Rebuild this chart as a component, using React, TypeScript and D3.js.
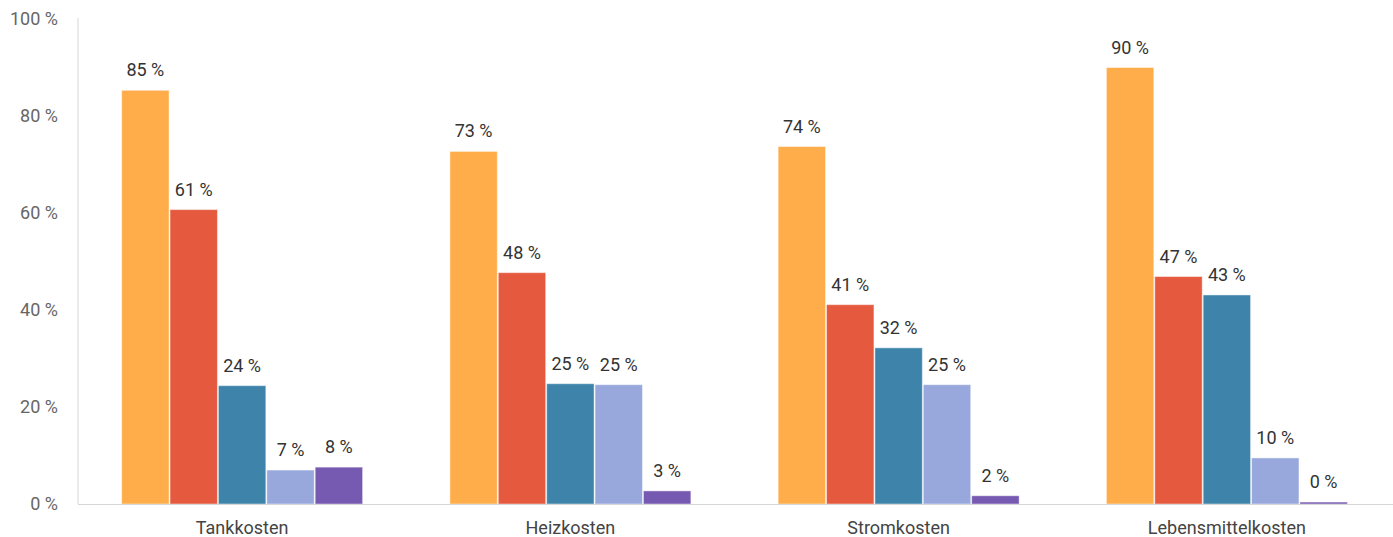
import React, { useEffect, useRef } from 'react';
import * as d3 from 'd3';

const categories = ['Tankkosten', 'Heizkosten', 'Stromkosten', 'Lebensmittelkosten'];
const seriesKeys = ['s1', 's2', 's3', 's4', 's5'];
const colors = ['#FFAD4B', '#E55A3F', '#3E84AA', '#98A8DC', '#7659B0'];
// values per category, in series order
const tankValues = [85.3, 60.7, 24.4, 7.0, 7.6];
const heizValues = [72.7, 47.7, 24.8, 24.6, 2.7];
const stromValues = [73.7, 41.1, 32.2, 24.6, 1.7];
const lebensValues = [90.0, 46.9, 43.1, 9.5, 0.4];
const yTicks = [0, 20, 40, 60, 80, 100];

const allValues = [tankValues, heizValues, stromValues, lebensValues];

const W = 1393;
const H = 537;

export default function App() {
  const svgRef = useRef<SVGSVGElement>(null);

  useEffect(() => {
    const svg = d3.select(svgRef.current);
    svg.selectAll('*').remove();

    const left = 78;
    const right = 1391;
    const top = 19;
    const bottom = 504;

    const x0 = d3.scaleBand().domain(categories).range([left, right]).paddingInner(0.26).paddingOuter(0.13);
    const x1 = d3.scaleBand().domain(seriesKeys).range([0, x0.bandwidth()]).padding(0.02);
    const y = d3.scaleLinear().domain([0, 100]).range([bottom, top]);

    const font = 'Roboto, "Noto Sans", sans-serif';

    // y tick labels
    svg.append('g')
      .selectAll('text')
      .data(yTicks)
      .enter().append('text')
      .attr('x', 58)
      .attr('y', d => y(d))
      .attr('dy', '0.35em')
      .attr('text-anchor', 'end')
      .attr('font-family', font)
      .attr('font-size', 18)
      .attr('fill', '#666')
      .text(d => `${d} %`);

    // bars
    const groups = svg.append('g')
      .selectAll('g')
      .data(categories)
      .enter().append('g')
      .attr('transform', d => `translate(${x0(d)},0)`);

    groups.selectAll('rect')
      .data((d, i) => allValues[i].map((v, j) => ({ key: seriesKeys[j], v, c: colors[j] })))
      .enter().append('rect')
      .attr('x', d => x1(d.key)!)
      .attr('y', d => y(d.v))
      .attr('width', x1.bandwidth())
      .attr('height', d => bottom - y(d.v))
      .attr('fill', d => d.c)
      .attr('stroke', 'rgba(255,255,255,0.45)')
      .attr('stroke-width', 1);

    groups.selectAll('text')
      .data((d, i) => allValues[i].map((v, j) => ({ key: seriesKeys[j], v })))
      .enter().append('text')
      .attr('x', d => x1(d.key)! + x1.bandwidth() / 2)
      .attr('y', d => y(d.v) - 14)
      .attr('text-anchor', 'middle')
      .attr('font-family', font)
      .attr('font-size', 18)
      .attr('fill', '#333')
      .text(d => `${Math.round(d.v)} %`);

    // axes lines
    svg.append('line')
      .attr('x1', left).attr('x2', left)
      .attr('y1', 18).attr('y2', bottom)
      .attr('stroke', '#d6d6d6');
    svg.append('line')
      .attr('x1', left).attr('x2', W)
      .attr('y1', bottom + 0.5).attr('y2', bottom + 0.5)
      .attr('stroke', '#d6d6d6');

    // category labels
    svg.append('g')
      .selectAll('text')
      .data(categories)
      .enter().append('text')
      .attr('x', d => x0(d)! + x0.bandwidth() / 2)
      .attr('y', 534)
      .attr('text-anchor', 'middle')
      .attr('font-family', font)
      .attr('font-size', 18)
      .attr('fill', '#444')
      .text(d => d);
  }, []);

  return (
    <svg ref={svgRef} width={W} height={H} style={{ position: 'absolute', left: 0, top: 0 }} />
  );
}
